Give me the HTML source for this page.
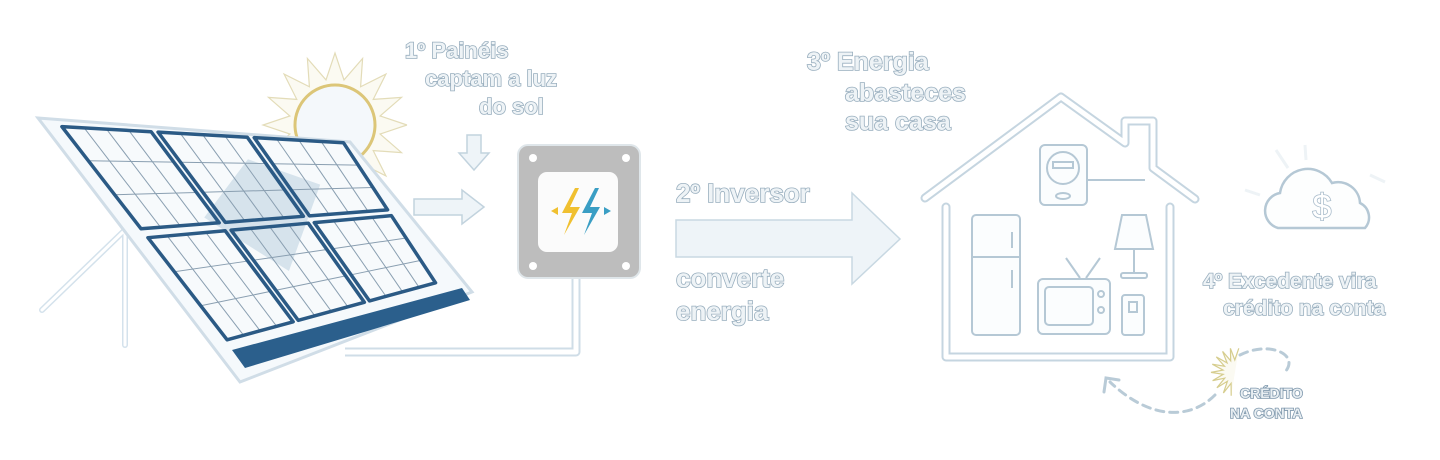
<!DOCTYPE html>
<html><head><meta charset="utf-8"><style>
html,body{margin:0;padding:0;background:#fff;width:1440px;height:460px;overflow:hidden}
svg text{font-family:"Liberation Sans","DejaVu Sans",sans-serif;font-weight:bold;fill:#eef3f6;stroke:#98aebe;stroke-width:1.6px;paint-order:stroke}
</style></head><body>
<svg id="s" width="1440" height="460" viewBox="0 0 1440 460" xmlns="http://www.w3.org/2000/svg">
<g fill="none" stroke="#d4e2ec" stroke-width="6" stroke-linecap="round">
<line x1="125" y1="230" x2="42" y2="310"/><line x1="125" y1="230" x2="125" y2="345"/>
</g>
<g fill="none" stroke="#fff" stroke-width="3" stroke-linecap="round">
<line x1="125" y1="230" x2="42" y2="310"/><line x1="125" y1="230" x2="125" y2="345"/>
</g>
<g id="sun"></g>
<circle cx="335" cy="125" r="40" fill="#f4f8fb" stroke="#dcc678" stroke-width="3"/>
<polygon points="38,118 350,142 472,292 240,382" fill="#f5f9fc" stroke="#d0dde7" stroke-width="3"/>
<polygon points="232,350 462,288 470,300 245,368" fill="#2b5f8c"/>
<g id="panel"></g>
<path d="M576,278 V352 H345" fill="none" stroke="#cfdde7" stroke-width="9" stroke-linejoin="round"/>
<path d="M576,278 V352 H345" fill="none" stroke="#fff" stroke-width="5" stroke-linejoin="round"/>
<path d="M467,135 h14 v18 h8 l-15,17 l-15,-17 h8z" fill="#eef4f8" stroke="#c2d3de" stroke-width="1.5"/>
<path d="M414,199 h48 v-9 l22,17 l-22,17 v-9 h-48z" fill="#eef4f8" stroke="#c2d3de" stroke-width="1.5"/>
<rect x="518" y="145" width="122" height="133" rx="10" fill="#bdbdbd" stroke="#dfe6ea" stroke-width="2"/>
<g fill="#fff"><circle cx="533" cy="158" r="4"/><circle cx="626" cy="158" r="4"/><circle cx="533" cy="266" r="4"/><circle cx="626" cy="266" r="4"/></g>
<rect x="538" y="172" width="80" height="80" rx="9" fill="#fbfbfb"/>
<path d="M575,188 l-13,25 h10 l-8,22 l16,-28 h-10 l9,-19z" fill="#f0c030"/>
<path d="M595,188 l-13,25 h10 l-8,22 l16,-28 h-10 l9,-19z" fill="#3a9ec4"/>
<path d="M551,211 l7,-4 v8z" fill="#f0c030"/><path d="M611,211 l-7,-4 v8z" fill="#3a9ec4"/>
<path d="M676,220 h176 v-27 l48,46 l-48,45 v-27 h-176z" fill="#eef4f8" stroke="#c8d8e2" stroke-width="1.5"/>
<g fill="none" stroke="#c5d5e0" stroke-width="9" stroke-linecap="round" stroke-linejoin="round">
<path d="M925,198 L1061,97 L1125,143 V121 H1153 V168 L1195,199"/>
<path d="M946,207 V357 H1170 V207"/>
</g>
<g fill="none" stroke="#fff" stroke-width="5" stroke-linecap="round" stroke-linejoin="round">
<path d="M925,198 L1061,97 L1125,143 V121 H1153 V168 L1195,199"/>
<path d="M946,207 V357 H1170 V207"/>
</g>
<g fill="#fbfdfe" stroke="#b5c8d5" stroke-width="2">
<rect x="1040" y="145" width="47" height="60" rx="5"/><circle cx="1063" cy="168" r="16"/><rect x="1053" y="162" width="20" height="6"/><ellipse cx="1063" cy="196" rx="7" ry="3"/>
<path d="M1087,180 H1145"/>
<rect x="972" y="215" width="48" height="120" rx="4"/><line x1="972" y1="257" x2="1020" y2="257"/><line x1="1012" y1="232" x2="1012" y2="248"/><line x1="1012" y1="270" x2="1012" y2="288"/>
<path d="M1122,215 h24 l7,34 h-38z"/><line x1="1134" y1="249" x2="1134" y2="273"/><rect x="1121" y="273" width="26" height="5" rx="2"/>
<path d="M1080,278 l-14,-20 M1086,278 l14,-20"/>
<rect x="1038" y="279" width="72" height="55" rx="5"/><rect x="1045" y="287" width="48" height="38" rx="4"/><circle cx="1101" cy="294" r="3"/><circle cx="1101" cy="310" r="3"/>
<rect x="1122" y="295" width="22" height="40" rx="3"/><rect x="1129" y="302" width="8" height="10"/>
</g>
<g stroke="#eef3f6" stroke-width="3"><line x1="1276" y1="150" x2="1288" y2="168"/><line x1="1305" y1="145" x2="1306" y2="160"/><line x1="1370" y1="175" x2="1385" y2="182"/><line x1="1245" y1="190" x2="1260" y2="195"/></g>
<path d="M1278,228 a18,18 0 0 1 2,-35 a28,28 0 0 1 52,-10 a22,22 0 0 1 28,20 a16,16 0 0 1 5,25z" fill="#fdfefe" stroke="#b5c8d5" stroke-width="2.5"/>
<text x="1322" y="218" text-anchor="middle" font-size="34" style="font-weight:normal;fill:#fff;stroke:#a9bccb;stroke-width:1.6px">$</text>
<path d="M1240,355 C1270,340 1300,355 1285,372 M1215,395 C1190,420 1150,420 1110,382" fill="none" stroke="#b9cbd7" stroke-width="3" stroke-dasharray="8 6" stroke-linecap="round"/>
<path d="M1104,392 l2,-14 l13,2" fill="none" stroke="#b9cbd7" stroke-width="3" stroke-linecap="round"/>
<g id="sun2"></g>
<text x="405" y="58" font-size="22">1º Painéis</text>
<text x="425" y="86" font-size="22">captam a luz</text>
<text x="479" y="114" font-size="22">do sol</text>
<text x="676" y="202" font-size="26">2º Inversor</text>
<text x="676" y="287" font-size="26">converte</text>
<text x="676" y="320" font-size="26">energia</text>
<text x="807" y="70" font-size="25">3º Energia</text>
<text x="845" y="101" font-size="25">abasteces</text>
<text x="845" y="130" font-size="25">sua casa</text>
<text x="1203" y="288" font-size="21">4º Excedente vira</text>
<text x="1223" y="315" font-size="21">crédito na conta</text>
<text x="1240" y="398" font-size="14" style="stroke:#7f98ad;fill:#e8eef2">CRÉDITO</text>
<text x="1230" y="418" font-size="14" style="stroke:#7f98ad;fill:#e8eef2">NA CONTA</text>
</svg>
<script>
var NS="http://www.w3.org/2000/svg";
function el(p,t,a){var e=document.createElementNS(NS,t);for(var k in a)e.setAttribute(k,a[k]);p.appendChild(e);return e;}
function rays(g,cx,cy,r1,r2,n,col,from,to){var pts=[];for(var i=0;i<=n*2;i++){var a=from+(to-from)*i/(n*2);var r=i%2?r1:r2;pts.push((cx+r*Math.cos(a)).toFixed(1)+","+(cy+r*Math.sin(a)).toFixed(1));}
el(g,"polyline",{points:pts.join(" "),fill:"#fbfaf2",stroke:col,"stroke-width":1.2});}
rays(document.getElementById("sun"),335,125,46,72,16,"#e3dcb8",0,Math.PI*2);
rays(document.getElementById("sun2"),1235,372,12,24,9,"#d6cd8e",Math.PI*0.55,Math.PI*1.55);
var TL=[55,122],TR=[345,140],BR=[440,285],BL=[228,345];
function P(u,v){return [TL[0]*(1-u)*(1-v)+TR[0]*u*(1-v)+BR[0]*u*v+BL[0]*(1-u)*v, TL[1]*(1-u)*(1-v)+TR[1]*u*(1-v)+BR[1]*u*v+BL[1]*(1-u)*v];}
var g=document.getElementById("panel");
var shade=[P(0.28,0.45),P(0.6,0.15),P(0.8,0.3),P(0.45,0.75)];
for(var c=0;c<3;c++)for(var r=0;r<2;r++){
 var u0=c/3+0.012,u1=(c+1)/3-0.012,v0=r/2+0.02,v1=(r+1)/2-0.02;
 var q=[P(u0,v0),P(u1,v0),P(u1,v1),P(u0,v1)];
 el(g,"polygon",{points:q.map(function(p){return p.join(",")}).join(" "),fill:"#f7fafc"});
}
el(g,"polygon",{points:shade.map(function(p){return p.join(",")}).join(" "),fill:"#c7d8e6",opacity:0.7});
for(var c=0;c<3;c++)for(var r=0;r<2;r++){
 var u0=c/3+0.012,u1=(c+1)/3-0.012,v0=r/2+0.02,v1=(r+1)/2-0.02;
 for(var i=1;i<4;i++){var u=u0+(u1-u0)*i/4;var a=P(u,v0),b=P(u,v1);el(g,"line",{x1:a[0],y1:a[1],x2:b[0],y2:b[1],stroke:"#8a9fb1","stroke-width":1});}
 for(var i=1;i<3;i++){var v=v0+(v1-v0)*i/3;var a=P(u0,v),b=P(u1,v);el(g,"line",{x1:a[0],y1:a[1],x2:b[0],y2:b[1],stroke:"#8a9fb1","stroke-width":1});}
 var q=[P(u0,v0),P(u1,v0),P(u1,v1),P(u0,v1)];
 el(g,"polygon",{points:q.map(function(p){return p.join(",")}).join(" "),fill:"none",stroke:"#2b5a85","stroke-width":3.5,"stroke-linejoin":"round"});
}
</script>
</body></html>
